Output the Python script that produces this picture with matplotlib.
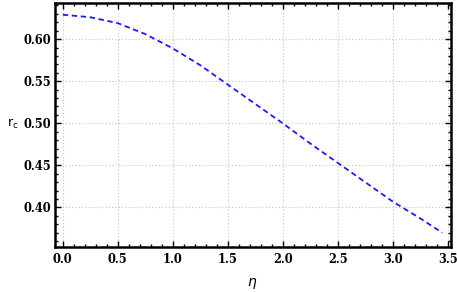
import numpy as np
import matplotlib.pyplot as plt
from matplotlib.ticker import MultipleLocator

# values
eta = [0.0, 0.25, 0.5, 0.75, 1.0, 1.25, 1.5, 1.75, 2.0, 2.25, 2.5, 2.75, 3.0, 3.25, 3.45]
rc = [0.629, 0.626, 0.619, 0.606, 0.589, 0.569, 0.546, 0.523, 0.500, 0.476, 0.453, 0.430, 0.407, 0.387, 0.370]

fig = plt.figure(figsize=(4.57, 2.92), dpi=100)
ax = fig.add_axes([0.1204, 0.154, 0.8666, 0.836])

ax.plot(eta, rc, color='#1a1aff', lw=1.3, ls=(0, (3, 2)))

ax.set_xlim(-0.07, 3.53)
ax.set_ylim(0.353, 0.643)
ax.xaxis.set_major_locator(MultipleLocator(0.5))
ax.xaxis.set_minor_locator(MultipleLocator(0.1))
ax.yaxis.set_major_locator(MultipleLocator(0.05))
ax.yaxis.set_minor_locator(MultipleLocator(0.01))
ax.xaxis.set_major_formatter(plt.FuncFormatter(lambda v, p: f'{v:.1f}'))
ax.yaxis.set_major_formatter(plt.FuncFormatter(lambda v, p: f'{v:.2f}'))

ax.grid(True, which='major', color='#c4c4c4', ls=(0, (1, 2)), lw=0.8)
for s in ax.spines.values():
    s.set_linewidth(1.8)
ax.tick_params(which='both', direction='in', top=True, right=True, width=1.0)
ax.tick_params(which='major', length=4)
ax.tick_params(which='minor', length=2)
ax.tick_params(axis='y', which='major', pad=3)
ax.tick_params(axis='x', which='major', pad=4)

for lab in ax.get_xticklabels() + ax.get_yticklabels():
    lab.set_fontfamily('DejaVu Serif')
    lab.set_fontweight('bold')
    lab.set_fontsize(8.3)

fig.text(0.028, 0.577, r'r$_\mathregular{c}$', fontsize=9, ha='center', va='center',
         family='DejaVu Sans')
fig.text(0.552, 0.03, r'$\eta$', fontsize=10, ha='center', va='center')

fig.savefig('out.png', dpi=100)
